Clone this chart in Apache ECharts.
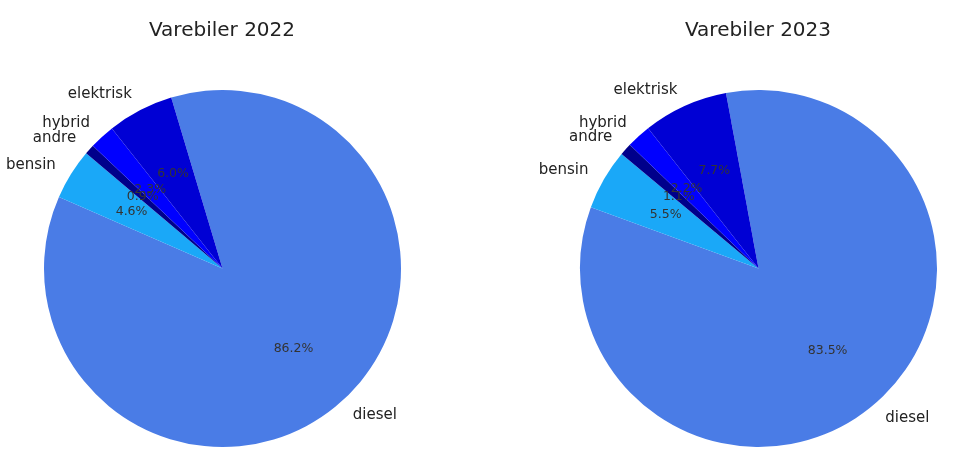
<!DOCTYPE html>
<html>
<head>
<meta charset="utf-8">
<script src="https://cdn.jsdelivr.net/npm/echarts@6/dist/echarts.min.js"></script>
<style>
html,body{margin:0;padding:0;background:#fff;}
#c{width:960px;height:472px;}
</style>
</head>
<body>
<div id="c"></div>
<script>
const titles = ['Varebiler 2022', 'Varebiler 2023'];
const categories = ['diesel', 'bensin', 'andre', 'hybrid', 'elektrisk'];
const values2022 = [86.2, 4.6, 0.9, 2.3, 6.0];
const values2023 = [83.5, 5.5, 1.1, 2.2, 7.7];
const colors = ['#4a7ce6', '#1aa8f8', '#00008b', '#0000ff', '#0000d4'];

const chart = echarts.init(document.getElementById('c'), null, {renderer: 'canvas'});
const R = 178.5;
const FONT = 'DejaVu Sans';

function mk(values) {
  return categories.map((c, i) => ({name: c, value: values[i], itemStyle: {color: colors[i]}}));
}

function pieSeries(values, cx, startAngle) {
  return [
    {
      type: 'pie',
      center: [cx, 268.5],
      radius: [0, R],
      startAngle: startAngle,
      clockwise: true,
      avoidLabelOverlap: false,
      silent: true,
      animation: false,
      data: mk(values),
      itemStyle: {borderWidth: 0},
      label: {
        show: true,
        position: 'outside',
        formatter: '{b}',
        color: '#222',
        fontFamily: FONT,
        fontSize: 15,
        distanceToLabelLine: 0
      },
      labelLayout: {hideOverlap: false},
      labelLine: {show: false, length: R * 0.1, length2: 0},
      emphasis: {disabled: true}
    },
    {
      type: 'pie',
      center: [cx, 268.5],
      radius: [R * 0.2 - 6, R],
      startAngle: startAngle,
      clockwise: true,
      avoidLabelOverlap: false,
      silent: true,
      animation: false,
      data: mk(values).map(d => ({...d, itemStyle: {color: 'rgba(0,0,0,0)'}})),
      label: {
        show: true,
        position: 'inside',
        formatter: p => p.value.toFixed(1) + '%',
        color: '#333',
        fontFamily: FONT,
        fontSize: 12.5
      },
      labelLayout: {hideOverlap: false},
      labelLine: {show: false},
      emphasis: {disabled: true}
    }
  ];
}

chart.setOption({
  animation: false,
  title: [
    {text: titles[0], left: 222, top: 21, padding: 0, textAlign: 'center',
     textStyle: {fontFamily: FONT, fontSize: 20, fontWeight: 'normal', color: '#222'}},
    {text: titles[1], left: 758, top: 21, padding: 0, textAlign: 'center',
     textStyle: {fontFamily: FONT, fontSize: 20, fontWeight: 'normal', color: '#222'}}
  ],
  series: [
    ...pieSeries(values2022, 222.5, 106.7),
    ...pieSeries(values2023, 758.5, 100.5)
  ]
});
</script>
</body>
</html>
